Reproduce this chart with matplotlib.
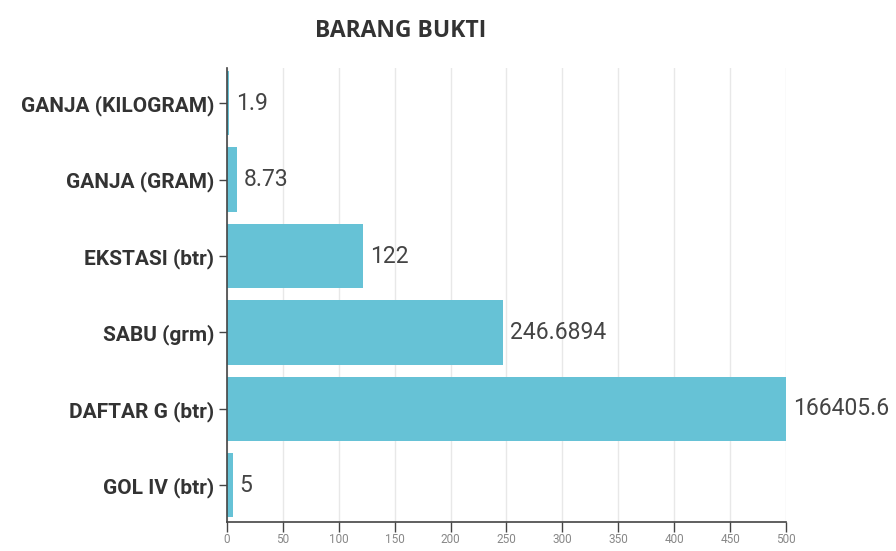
import numpy as np
import matplotlib.pyplot as plt

# data
categories = ['GANJA (KILOGRAM)', 'GANJA (GRAM)', 'EKSTASI (btr)', 'SABU (grm)', 'DAFTAR G (btr)', 'GOL IV (btr)']
values = [1.9, 8.73, 122, 246.6894, 166405.6, 5]
value_labels = ['1.9', '8.73', '122', '246.6894', '166405.6', '5']
xticks = [0, 50, 100, 150, 200, 250, 300, 350, 400, 450, 500]

fam = ['Roboto', 'DejaVu Sans']

fig = plt.figure(figsize=(8.96, 5.51), dpi=100)
ax = fig.add_axes([0.2533, 0.0526, 0.6239, 0.824])

y = np.arange(len(categories))
xmax = 500
ax.barh(y, values, height=0.84, color='#66c2d6', zorder=2)
ax.set_xlim(0, xmax)
ax.set_ylim(len(categories) - 0.52, -0.46)

for yi, v, lab in zip(y, values, value_labels):
    ax.annotate(lab, xy=(min(v, xmax), yi), xytext=(5, 0), textcoords='offset points',
                va='center', ha='left', fontsize=16.5, color='#444444',
                family=fam, annotation_clip=False)

ax.set_yticks(y)
ax.set_yticklabels(categories, fontsize=15, fontweight='bold', color='#333333', family=fam)
ax.set_xticks(xticks)
ax.set_xticklabels([str(t) for t in xticks], fontsize=8.5, color='#888888', family=fam)
ax.tick_params(axis='y', length=6, width=1, color='#444444', pad=3)
ax.tick_params(axis='x', length=7, width=1, color='#444444', pad=1)

ax.grid(axis='x', color='#e8e8e8', linewidth=1, zorder=0)
ax.set_axisbelow(True)
for s in ['top', 'right']:
    ax.spines[s].set_visible(False)
for s in ['left', 'bottom']:
    ax.spines[s].set_color('#444444')
    ax.spines[s].set_linewidth(1.2)

fig.text(0.447, 0.944, 'BARANG BUKTI', ha='center', va='center', fontsize=16.5,
         fontweight='bold', color='#333333', family=['Open Sans', 'DejaVu Sans'])

plt.savefig('out.png', dpi=100, facecolor='white')
